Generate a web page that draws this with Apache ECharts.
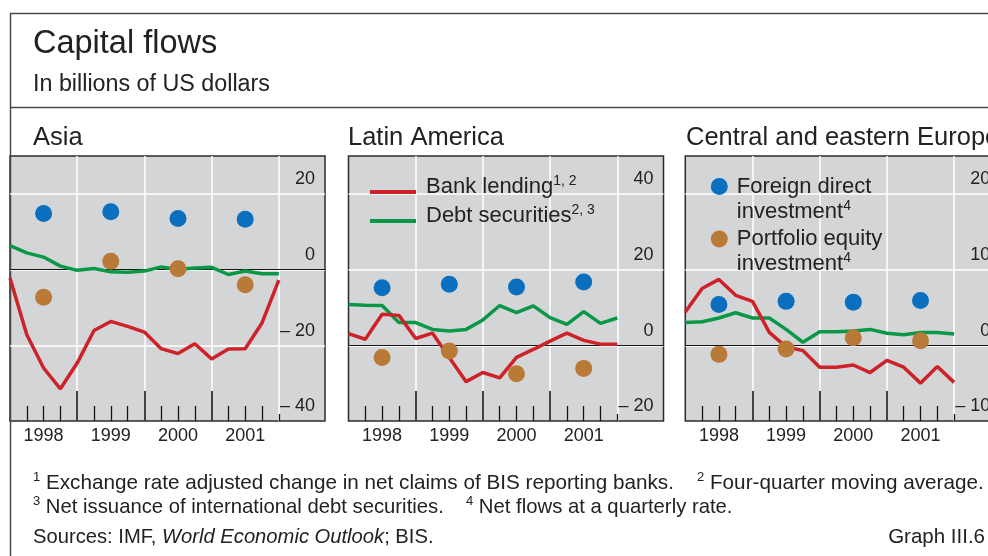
<!DOCTYPE html>
<html>
<head>
<meta charset="utf-8">
<title>Capital flows</title>
<script src="https://cdn.jsdelivr.net/npm/echarts@6/dist/echarts.min.js"></script>
<style>
  html, body { margin: 0; padding: 0; background: #fff; }
  #chart { width: 988px; height: 556px; }
</style>
</head>
<body>
<div id="chart"></div>
<script>
// quarterly observations (17 per panel) and annual dots (one per year)
const years = ['1998', '1999', '2000', '2001'];
const panelTitles = ['Asia', 'Latin America', 'Central and eastern Europe'];

const asiaBank = [-2.2, -17.2, -26, -31.5, -24.7, -16.1, -13.7, -15, -16.5, -20.9, -22.2, -19.6, -23.6, -21, -20.9, -14.1, -2.8];
const asiaDebt = [6.3, 4.4, 3.3, 0.9, -0.2, 0.3, -0.6, -0.7, -0.4, 0.7, 0, 0.4, 0.6, -1.3, -0.4, -1.1, -1.1];
const asiaFdi = [14.8, 15.3, 13.5, 13.3];
const asiaEquity = [-7.3, 2.2, 0.2, -4.0];

const latamBank = [3.1, 1.6, 8.2, 7.9, 1.8, 3.2, -3.2, -9.6, -7.2, -8.6, -3.2, -1.1, 1.1, 3.2, 1.3, 0.3, 0.3];
const latamDebt = [10.8, 10.6, 10.5, 6.0, 6.0, 4.2, 3.8, 4.2, 6.7, 10.5, 8.6, 10.4, 7.3, 5.5, 8.9, 5.8, 7.2];
const latamFdi = [15.2, 16.1, 15.4, 16.7];
const latamEquity = [-3.2, -1.5, -7.5, -6.1];

const ceeBank = [4.4, 7.5, 8.7, 6.6, 5.8, 1.7, -0.2, -0.7, -2.9, -2.9, -2.6, -3.6, -2.0, -2.9, -5.0, -2.8, -4.9];
const ceeDebt = [3.0, 3.1, 3.6, 4.3, 3.6, 3.6, 2.1, 0.4, 1.8, 1.8, 1.9, 2.1, 1.6, 1.4, 1.7, 1.7, 1.5];
const ceeFdi = [5.4, 5.8, 5.7, 5.9];
const ceeEquity = [-1.2, -0.5, 1.0, 0.6];

// value axis ranges per panel
const yMin = [-40, -20, -10];
const yMax = [30, 50, 25];
const yStep = [20, 20, 10];

const FONT = '"Liberation Sans", Arial, Helvetica, sans-serif';
const RED = '#cd2229';
const GREEN = '#0a9848';
const BLUE = '#0a6fbe';
const BROWN = '#b87a36';
const TEXT = '#222';

const panels = [
  { bank: asiaBank, debt: asiaDebt, fdi: asiaFdi, equity: asiaEquity },
  { bank: latamBank, debt: latamDebt, fdi: latamFdi, equity: latamEquity },
  { bank: ceeBank, debt: ceeDebt, fdi: ceeFdi, equity: ceeEquity }
];
const gridLeft = [10, 348.5, 685.3];

// x axis in quarters: 0..16 is data, rest is room for the value labels
const xMax = 18.75;
const yearBreaks = [4, 8, 12];
const yearMid = [2, 6, 10, 14];
const quarterTicks = [1, 2, 3, 5, 6, 7, 9, 10, 11, 13, 14, 15];

const grids = [];
const xAxes = [];
const yAxes = [];
const series = [];

panels.forEach(function (p, i) {
  grids.push({
    left: gridLeft[i], top: 156, width: 315, height: 265,
    show: true, backgroundColor: '#d4d5d7', borderColor: '#2b2b2b', borderWidth: 1.5,
    containLabel: false, outerBoundsMode: 'none'
  });
  const base = { type: 'value', gridIndex: i, min: 0, max: xMax, position: 'bottom' };
  // white year grid + black zero line
  xAxes.push(Object.assign({}, base, {
    interval: 4,
    splitLine: { show: true, showMinLine: false, showMaxLine: false, lineStyle: { color: '#fff', width: 1.5 } },
    axisLine: { show: true, onZero: true, lineStyle: { color: '#151515', width: 1.2 } },
    axisTick: { show: false },
    axisLabel: { show: false }
  }));
  // long year ticks + year labels
  xAxes.push(Object.assign({}, base, {
    splitLine: { show: false },
    axisLine: { show: false, onZero: false },
    axisTick: { show: true, inside: true, length: 30, customValues: yearBreaks, lineStyle: { color: '#151515', width: 1.6 } },
    axisLabel: {
      show: true, customValues: yearMid, margin: 6,
      formatter: function (v) { return years[(v - 2) / 4]; },
      color: TEXT, fontSize: 18, fontFamily: FONT
    }
  }));
  // quarter ticks
  xAxes.push(Object.assign({}, base, {
    splitLine: { show: false },
    axisLine: { show: false, onZero: false },
    axisTick: { show: true, inside: true, length: 15, customValues: quarterTicks, lineStyle: { color: '#151515', width: 1.3 } },
    axisLabel: { show: false }
  }));
  // short end tick
  xAxes.push(Object.assign({}, base, {
    splitLine: { show: false },
    axisLine: { show: false, onZero: false },
    axisTick: { show: true, inside: true, length: 7, customValues: [16], lineStyle: { color: '#151515', width: 1.3 } },
    axisLabel: { show: false }
  }));

  yAxes.push({
    type: 'value', gridIndex: i, position: 'right',
    min: yMin[i], max: yMax[i], interval: yStep[i],
    splitLine: { show: true, showMinLine: false, showMaxLine: false, lineStyle: { color: '#fff', width: 1.5 } },
    axisLine: { show: false, onZero: false },
    axisTick: { show: false },
    axisLabel: {
      inside: true, margin: 10, showMaxLabel: false,
      color: TEXT, fontSize: 18, fontFamily: FONT,
      formatter: function (v) { return '{v|' + (v < 0 ? '\u2013 ' + Math.abs(v) : String(v)) + '}'; },
      rich: {
        v: { fontSize: 18, fontFamily: FONT, color: TEXT, padding: [0, 0, 29, 0] }
      }
    }
  });

  const xi = i * 4;
  series.push({
    type: 'line', name: 'Debt securities', xAxisIndex: xi, yAxisIndex: i,
    data: p.debt.map(function (v, k) { return [k, v]; }),
    symbol: 'none', showSymbol: false, z: 3,
    lineStyle: { color: GREEN, width: 3.5 }, itemStyle: { color: GREEN }
  });
  series.push({
    type: 'line', name: 'Bank lending', xAxisIndex: xi, yAxisIndex: i,
    data: p.bank.map(function (v, k) { return [k, v]; }),
    symbol: 'none', showSymbol: false, z: 4,
    lineStyle: { color: RED, width: 3.5 }, itemStyle: { color: RED }
  });
  series.push({
    type: 'scatter', name: 'Foreign direct investment', xAxisIndex: xi, yAxisIndex: i,
    data: p.fdi.map(function (v, j) { return [yearMid[j], v]; }),
    symbolSize: 17, z: 5, itemStyle: { color: BLUE, opacity: 1 }
  });
  series.push({
    type: 'scatter', name: 'Portfolio equity investment', xAxisIndex: xi, yAxisIndex: i,
    data: p.equity.map(function (v, j) { return [yearMid[j], v]; }),
    symbolSize: 17, z: 5, itemStyle: { color: BROWN, opacity: 1 }
  });
});

const supRich = {
  s: { fontSize: 14, lineHeight: 19, verticalAlign: 'top', fontFamily: FONT, color: TEXT }
};

function headText(txt, x, y, size) {
  return {
    type: 'text', x: x, y: y, silent: true,
    style: { text: txt, fill: TEXT, fontSize: size, fontFamily: FONT, verticalAlign: 'middle' }
  };
}
function noteText(txt, x, y, size, align) {
  return {
    type: 'text', x: x, y: y, silent: true,
    style: {
      text: txt, fill: TEXT, fontSize: size, fontFamily: FONT, lineHeight: 24,
      verticalAlign: 'middle', align: align || 'left',
      rich: {
        s: { fontSize: 13, lineHeight: 20, verticalAlign: 'top', fontFamily: FONT, fill: TEXT },
        i: { fontSize: size, lineHeight: 24, fontStyle: 'italic', fontFamily: FONT, fill: TEXT }
      }
    }
  };
}
function frameLine(x1, y1, x2, y2) {
  return {
    type: 'line', silent: true,
    shape: { x1: x1, y1: y1, x2: x2, y2: y2 },
    style: { stroke: '#4a4a4a', lineWidth: 1.5 }
  };
}

const option = {
  animation: false,
  backgroundColor: '#fff',
  grid: grids,
  xAxis: xAxes,
  yAxis: yAxes,
  series: series,
  legend: [
    {
      data: ['Bank lending', 'Debt securities'],
      left: 370, top: 174, orient: 'vertical', padding: 0, itemGap: -7,
      icon: 'rect', itemWidth: 46, itemHeight: 4, selectedMode: false,
      formatter: function (name) {
        return name === 'Bank lending' ? 'Bank lending{s|1, 2}' : 'Debt securities{s|2, 3}';
      },
      textStyle: {
        fontFamily: FONT, fontSize: 22, color: TEXT, lineHeight: 26,
        padding: [0, 0, 10, 5], rich: supRich
      }
    },
    {
      data: ['Foreign direct investment', 'Portfolio equity investment'],
      left: 710.8, top: 149, orient: 'vertical', padding: 0, itemGap: -22.4,
      icon: 'circle', itemWidth: 17, itemHeight: 17, selectedMode: false,
      formatter: function (name) {
        return name === 'Foreign direct investment'
          ? 'Foreign direct\ninvestment{s|4}'
          : 'Portfolio equity\ninvestment{s|4}';
      },
      textStyle: {
        fontFamily: FONT, fontSize: 22, color: TEXT, lineHeight: 25,
        padding: [25, 0, 0, 4], rich: supRich
      }
    }
  ],
  graphic: [
    frameLine(10, 13.5, 988, 13.5),
    frameLine(10.5, 13.5, 10.5, 556),
    frameLine(10, 107.5, 988, 107.5),
    headText('Capital flows', 33, 44.5, 32.5),
    headText('In billions of US dollars', 33, 85, 23.3),
    headText(panelTitles[0], 33, 138, 25.5),
    headText(panelTitles[1], 348, 138, 25.5),
    headText(panelTitles[2], 686, 138, 25.5),
    noteText('{s|1} Exchange rate adjusted change in net claims of BIS reporting banks.', 33, 483, 20.7),
    noteText('{s|2} Four-quarter moving average.', 697, 483, 20.7),
    noteText('{s|3} Net issuance of international debt securities.', 33, 507, 20.3),
    noteText('{s|4} Net flows at a quarterly rate.', 466, 507, 20.3),
    noteText('Sources: IMF, {i|World Economic Outlook}; BIS.', 33, 537, 20.2),
    noteText('Graph III.6', 985, 537, 20.5, 'right')
  ]
};

const chart = echarts.init(document.getElementById('chart'), null, { renderer: 'canvas' });
chart.setOption(option);
</script>
</body>
</html>
